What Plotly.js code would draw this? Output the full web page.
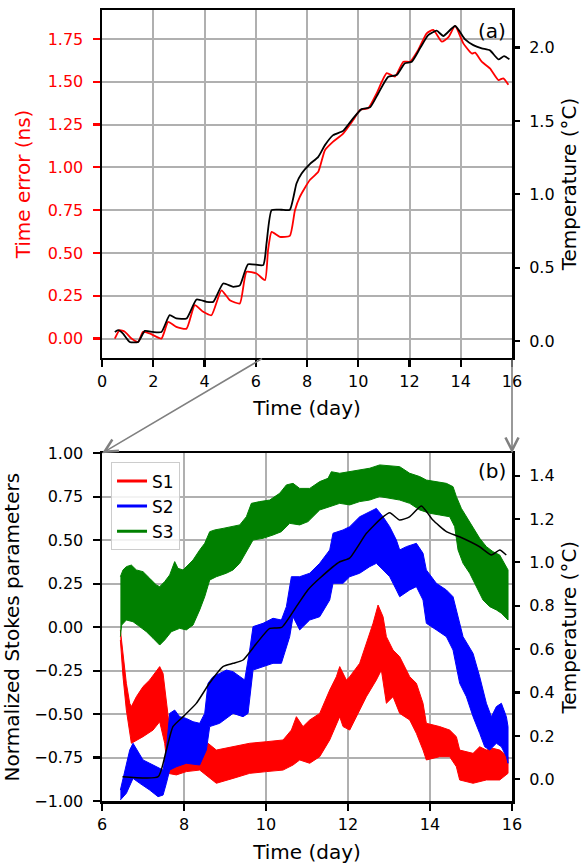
<!DOCTYPE html>
<html>
<head>
<meta charset="utf-8">
<script src="https://cdn.plot.ly/plotly-3.0.1.min.js"></script>
<style>html,body{margin:0;padding:0;background:#fff;}#chart{width:581px;height:865px;}</style>
</head>
<body>
<div id="chart"></div>
<script>
// ---------- Panel (a) ----------
const teTime = [0.5,0.69,0.89,1.15,1.41,1.6,1.86,2.32,2.58,2.9,3.3,3.62,3.95,4.27,4.66,4.99,5.38,5.64,6.03,6.36,6.48,6.62,6.94,7.33,7.53,7.72,8.11,8.44,8.7,9.02,9.41,9.8,10.07,10.39,10.72,11.11,11.43,11.76,12.02,12.34,12.67,12.93,13.26,13.52,13.78,14.1,14.43,14.56,14.82,15.14,15.47,15.66,15.86];
const timeError = [0.0,0.049,0.04,0.0,-0.02,0.039,0.03,0.0,0.097,0.068,0.058,0.195,0.156,0.136,0.282,0.224,0.205,0.39,0.38,0.341,0.516,0.623,0.594,0.6,0.75,0.828,0.926,0.974,1.10,1.15,1.197,1.276,1.335,1.345,1.433,1.55,1.53,1.617,1.617,1.686,1.783,1.803,1.734,1.76,1.826,1.724,1.665,1.67,1.617,1.578,1.51,1.52,1.483];
const tempTimeA = [0.5,0.63,0.82,1.08,1.41,1.67,1.99,2.32,2.64,2.9,3.3,3.69,4.08,4.34,4.73,5.12,5.38,5.7,6.29,6.42,6.62,7.0,7.33,7.59,7.79,8.11,8.44,8.7,9.02,9.41,9.8,10.13,10.46,10.78,11.17,11.5,11.82,12.09,12.41,12.73,13.06,13.32,13.78,14.17,14.49,14.82,15.14,15.47,15.69,15.9];
const tempA = [0.063,0.075,0.052,-0.005,-0.005,0.07,0.063,0.063,0.177,0.155,0.155,0.284,0.268,0.268,0.393,0.37,0.38,0.524,0.518,0.666,0.892,0.895,0.895,1.074,1.142,1.206,1.255,1.335,1.403,1.432,1.517,1.58,1.592,1.687,1.80,1.812,1.892,1.903,1.994,2.084,2.114,2.078,2.146,2.055,2.016,1.994,1.98,1.919,1.941,1.919];

// ---------- Panel (b) : Stokes bands (upper / lower envelopes of the noisy traces) ----------
const s1HiTime = [6.448,6.513,6.594,6.676,6.716,6.838,7.001,7.163,7.326,7.407,7.489,7.570,7.611,7.692,7.814,8.057,8.383,8.505,8.586,8.789,9.196,9.602,10.009,10.416,10.619,10.741,10.903,11.066,11.310,11.554,11.716,11.798,11.960,12.042,12.285,12.448,12.611,12.733,12.855,12.936,13.098,13.261,13.505,13.668,13.830,13.911,14.236,14.480,14.643,14.724,15.050,15.212,15.375,15.537,15.700,15.903];
const s1Hi = [-0.016,-0.170,-0.323,-0.438,-0.457,-0.400,-0.342,-0.304,-0.256,-0.227,-0.266,-0.419,-0.515,-0.668,-0.764,-0.755,-0.745,-0.726,-0.668,-0.707,-0.688,-0.668,-0.659,-0.649,-0.592,-0.515,-0.572,-0.534,-0.496,-0.362,-0.285,-0.227,-0.304,-0.285,-0.208,-0.093,0.022,0.127,0.060,-0.055,-0.132,-0.170,-0.285,-0.323,-0.438,-0.553,-0.572,-0.592,-0.630,-0.707,-0.726,-0.688,-0.707,-0.697,-0.707,-0.745];
const s1LoTime = [6.448,6.513,6.594,6.716,6.838,7.001,7.245,7.407,7.529,7.611,7.814,8.057,8.383,8.586,8.789,9.196,9.602,10.009,10.416,10.659,10.822,11.066,11.310,11.554,11.798,11.879,12.042,12.285,12.448,12.692,12.814,12.936,13.098,13.261,13.505,13.668,13.830,13.911,14.236,14.480,14.643,14.724,15.050,15.375,15.700,15.903];
const s1Lo = [-0.074,-0.285,-0.477,-0.668,-0.649,-0.630,-0.592,-0.544,-0.668,-0.841,-0.850,-0.831,-0.822,-0.860,-0.898,-0.870,-0.841,-0.831,-0.822,-0.793,-0.764,-0.783,-0.745,-0.649,-0.515,-0.572,-0.592,-0.477,-0.400,-0.304,-0.247,-0.438,-0.400,-0.496,-0.534,-0.611,-0.707,-0.764,-0.745,-0.745,-0.803,-0.879,-0.898,-0.879,-0.879,-0.841];

const s2HiTime = [6.448,6.554,6.676,6.757,6.879,7.001,7.163,7.326,7.489,7.570,7.651,7.773,7.895,8.057,8.220,8.383,8.505,8.586,8.708,8.871,9.033,9.196,9.358,9.480,9.602,9.684,9.928,10.171,10.375,10.497,10.619,10.822,11.066,11.310,11.554,11.635,11.879,12.042,12.285,12.529,12.692,12.855,13.017,13.180,13.261,13.424,13.668,13.830,13.911,14.155,14.399,14.562,14.724,14.806,15.050,15.212,15.375,15.497,15.619,15.741,15.863,15.903];
const s2Hi = [-0.937,-0.822,-0.707,-0.668,-0.716,-0.764,-0.783,-0.803,-0.822,-0.707,-0.496,-0.477,-0.515,-0.525,-0.544,-0.553,-0.496,-0.323,-0.285,-0.266,-0.247,-0.256,-0.285,-0.304,-0.132,0.003,0.022,0.051,0.041,0.118,0.290,0.290,0.310,0.367,0.444,0.540,0.559,0.578,0.635,0.664,0.683,0.635,0.578,0.501,0.444,0.463,0.482,0.425,0.329,0.252,0.214,0.175,0.022,-0.055,-0.151,-0.285,-0.438,-0.515,-0.457,-0.438,-0.515,-0.572];
const s2LoTime = [6.448,6.594,6.757,6.920,7.163,7.367,7.489,7.570,7.651,7.814,8.057,8.383,8.546,8.627,8.871,9.196,9.440,9.562,9.684,9.928,10.171,10.375,10.578,10.659,10.822,11.066,11.310,11.554,11.635,11.879,12.042,12.285,12.529,12.692,12.855,13.017,13.180,13.261,13.505,13.668,13.830,13.911,14.155,14.399,14.562,14.724,14.887,15.050,15.212,15.334,15.456,15.619,15.741,15.863,15.903];
const s2Lo = [-0.994,-0.956,-0.870,-0.898,-0.937,-0.975,-0.966,-0.898,-0.822,-0.803,-0.783,-0.793,-0.707,-0.572,-0.553,-0.496,-0.515,-0.496,-0.247,-0.227,-0.208,-0.208,-0.055,0.060,-0.016,0.041,0.060,0.156,0.252,0.252,0.290,0.310,0.348,0.367,0.329,0.290,0.214,0.175,0.214,0.233,0.156,0.022,-0.016,-0.055,-0.132,-0.323,-0.400,-0.515,-0.611,-0.688,-0.707,-0.668,-0.688,-0.745,-0.783];

const s3HiTime = [6.448,6.513,6.594,6.716,6.838,7.001,7.163,7.326,7.407,7.529,7.651,7.773,7.854,7.976,8.098,8.220,8.383,8.505,8.627,8.749,8.952,9.196,9.359,9.521,9.643,9.846,10.090,10.334,10.497,10.659,10.822,11.066,11.310,11.513,11.594,11.798,12.042,12.285,12.529,12.773,13.017,13.261,13.505,13.749,13.911,14.155,14.399,14.562,14.643,14.765,14.887,15.050,15.212,15.375,15.537,15.700,15.822,15.903];
const s3Hi = [0.290,0.329,0.348,0.357,0.329,0.319,0.281,0.242,0.233,0.262,0.300,0.377,0.338,0.329,0.357,0.386,0.444,0.482,0.549,0.559,0.568,0.578,0.588,0.635,0.712,0.722,0.731,0.770,0.818,0.827,0.798,0.798,0.837,0.856,0.894,0.885,0.894,0.904,0.914,0.933,0.927,0.923,0.885,0.866,0.846,0.837,0.827,0.808,0.751,0.683,0.635,0.578,0.511,0.463,0.434,0.415,0.367,0.329];
const s3LoTime = [6.448,6.480,6.594,6.757,6.919,7.082,7.245,7.407,7.529,7.692,7.895,8.057,8.220,8.383,8.505,8.627,8.789,9.033,9.196,9.359,9.521,9.684,9.928,10.171,10.375,10.578,10.822,11.025,11.310,11.554,11.798,12.042,12.285,12.529,12.773,13.017,13.261,13.505,13.749,13.993,14.236,14.480,14.602,14.684,14.806,14.968,15.131,15.293,15.456,15.619,15.741,15.822,15.903];
const s3Lo = [-0.055,0.012,0.041,0.031,0.003,-0.026,-0.064,-0.103,-0.074,-0.026,-0.007,-0.016,0.012,0.099,0.175,0.271,0.290,0.310,0.329,0.367,0.434,0.501,0.511,0.530,0.549,0.597,0.588,0.607,0.674,0.693,0.712,0.703,0.722,0.731,0.751,0.741,0.731,0.712,0.674,0.655,0.645,0.635,0.578,0.444,0.367,0.310,0.233,0.156,0.118,0.099,0.080,0.060,0.041];

const tempTimeB = [6.5,7.37,7.57,7.73,7.98,8.3,8.62,8.95,9.2,9.44,9.77,10.09,10.38,10.74,11.02,11.31,11.8,12.04,12.45,12.81,13.02,13.26,13.5,13.79,14.07,14.40,14.72,15.21,15.5,15.7,15.86];
const tempB = [0.012,0.012,0.135,0.243,0.289,0.35,0.443,0.52,0.535,0.55,0.627,0.696,0.70,0.796,0.873,0.927,1.003,1.02,1.134,1.203,1.229,1.195,1.21,1.26,1.195,1.142,1.118,1.072,1.034,1.057,1.034];

const seriesNames = ['S1','S2','S3'];
const seriesColors = ['#ff0000','#0000ff','#008000'];

const FONT = 'DejaVu Sans, Verdana, sans-serif';

function band(tHi, hi, tLo, lo, color){
  return {
    x: tHi.concat(tLo.slice().reverse()),
    y: hi.concat(lo.slice().reverse()),
    xaxis:'x2', yaxis:'y3', type:'scatter', mode:'lines',
    fill:'toself', fillcolor:color,
    line:{color:color, width:1}, showlegend:false, hoverinfo:'skip'
  };
}

const traces = [
  {x: teTime, y: timeError, xaxis:'x', yaxis:'y', mode:'lines', line:{color:'#ff0000', width:1.8, shape:'spline', smoothing:0.5}, showlegend:false},
  {x: tempTimeA, y: tempA, xaxis:'x', yaxis:'y2', mode:'lines', line:{color:'#000000', width:1.8, shape:'spline', smoothing:0.5}, showlegend:false},
  band(s1HiTime, s1Hi, s1LoTime, s1Lo, seriesColors[0]),
  band(s2HiTime, s2Hi, s2LoTime, s2Lo, seriesColors[1]),
  band(s3HiTime, s3Hi, s3LoTime, s3Lo, seriesColors[2]),
  {x: tempTimeB, y: tempB, xaxis:'x2', yaxis:'y4', mode:'lines', line:{color:'#000000', width:1.5, shape:'spline', smoothing:0.5}, showlegend:false}
];
// legend entries
seriesNames.forEach((n,i)=>{
  traces.push({x:[null], y:[null], xaxis:'x2', yaxis:'y3', mode:'lines', name:n, line:{color:seriesColors[i], width:3}, showlegend:true});
});

const common = {
  showline:true, linecolor:'#000', linewidth:2.5, mirror:true,
  ticks:'outside', ticklen:7, tickwidth:2.2, tickcolor:'#000',
  showgrid:true, gridcolor:'#b0b0b0', gridwidth:2, zeroline:false,
  tickfont:{size:16, color:'#000', family:FONT}
};
const rightCommon = {
  showline:false, ticks:'outside', ticklen:7, tickwidth:2.2, tickcolor:'#000',
  showgrid:false, zeroline:false, tickfont:{size:16, color:'#000', family:FONT}
};

const layout = {
  width:581, height:865,
  margin:{l:102, r:69, t:10, b:64},
  paper_bgcolor:'#fff', plot_bgcolor:'#fff',
  font:{family:FONT, size:16, color:'#000'},
  xaxis: Object.assign({}, common, {domain:[0,1], anchor:'y', range:[0,16], tick0:0, dtick:2,
    title:{text:'Time (day)', font:{size:20}, standoff:12}}),
  yaxis: Object.assign({}, common, {domain:[0.5601,1], anchor:'x', range:[-0.1134,1.919], tick0:0, dtick:0.25, tickformat:'.2f',
    tickcolor:'#ff0000', tickfont:{size:16, color:'#ff0000', family:FONT}, ticklabelstandoff:6,
    title:{text:'Time error (ns)', font:{size:20, color:'#ff0000'}, standoff:12}}),
  yaxis2: Object.assign({}, rightCommon, {overlaying:'y', side:'right', anchor:'x', range:[-0.114,2.255], tick0:0, dtick:0.5, tickformat:'.1f', ticklabelstandoff:6,
    title:{text:'Temperature (°C)', font:{size:20}, standoff:10}}),
  xaxis2: Object.assign({}, common, {domain:[0,1], anchor:'y3', range:[6,16], tick0:6, dtick:2,
    title:{text:'Time (day)', font:{size:20}, standoff:13}}),
  yaxis3: Object.assign({}, common, {domain:[0,0.4396], anchor:'x2', range:[-1,1], tick0:-1, dtick:0.25, tickformat:'.2f', ticklabelstandoff:6,
    title:{text:'Normalized Stokes parameters', font:{size:20}, standoff:12}}),
  yaxis4: Object.assign({}, rightCommon, {overlaying:'y3', side:'right', anchor:'x2', range:[-0.1,1.503], tick0:0, dtick:0.2, tickformat:'.1f', ticklabelstandoff:6,
    title:{text:'Temperature (°C)', font:{size:20}, standoff:10}}),
  legend:{x:0.022, y:0.428, xanchor:'left', yanchor:'top', bgcolor:'rgba(255,255,255,0.85)', bordercolor:'#cccccc', borderwidth:1,
    font:{size:17, family:FONT}, tracegroupgap:0},
  annotations:[
    {text:'(a)', xref:'paper', yref:'paper', x:0.951, y:0.9735, showarrow:false, font:{size:20}, xanchor:'center', yanchor:'middle'},
    {text:'(b)', xref:'paper', yref:'paper', x:0.951, y:0.4176, showarrow:false, font:{size:20}, xanchor:'center', yanchor:'middle'},
    {text:'', x:6, y:1, xref:'x2', yref:'y3', ax:161.5, ay:-95.5, showarrow:true, arrowhead:5, arrowsize:1.6, arrowwidth:1.6, arrowcolor:'#808080', standoff:0},
    {text:'', x:16, y:1, xref:'x2', yref:'y3', ax:0, ay:-95, showarrow:true, arrowhead:5, arrowsize:1.6, arrowwidth:1.6, arrowcolor:'#808080', standoff:0}
  ],
  showlegend:true
};

Plotly.newPlot('chart', traces, layout, {staticPlot:true, displayModeBar:false});
</script>
</body>
</html>
